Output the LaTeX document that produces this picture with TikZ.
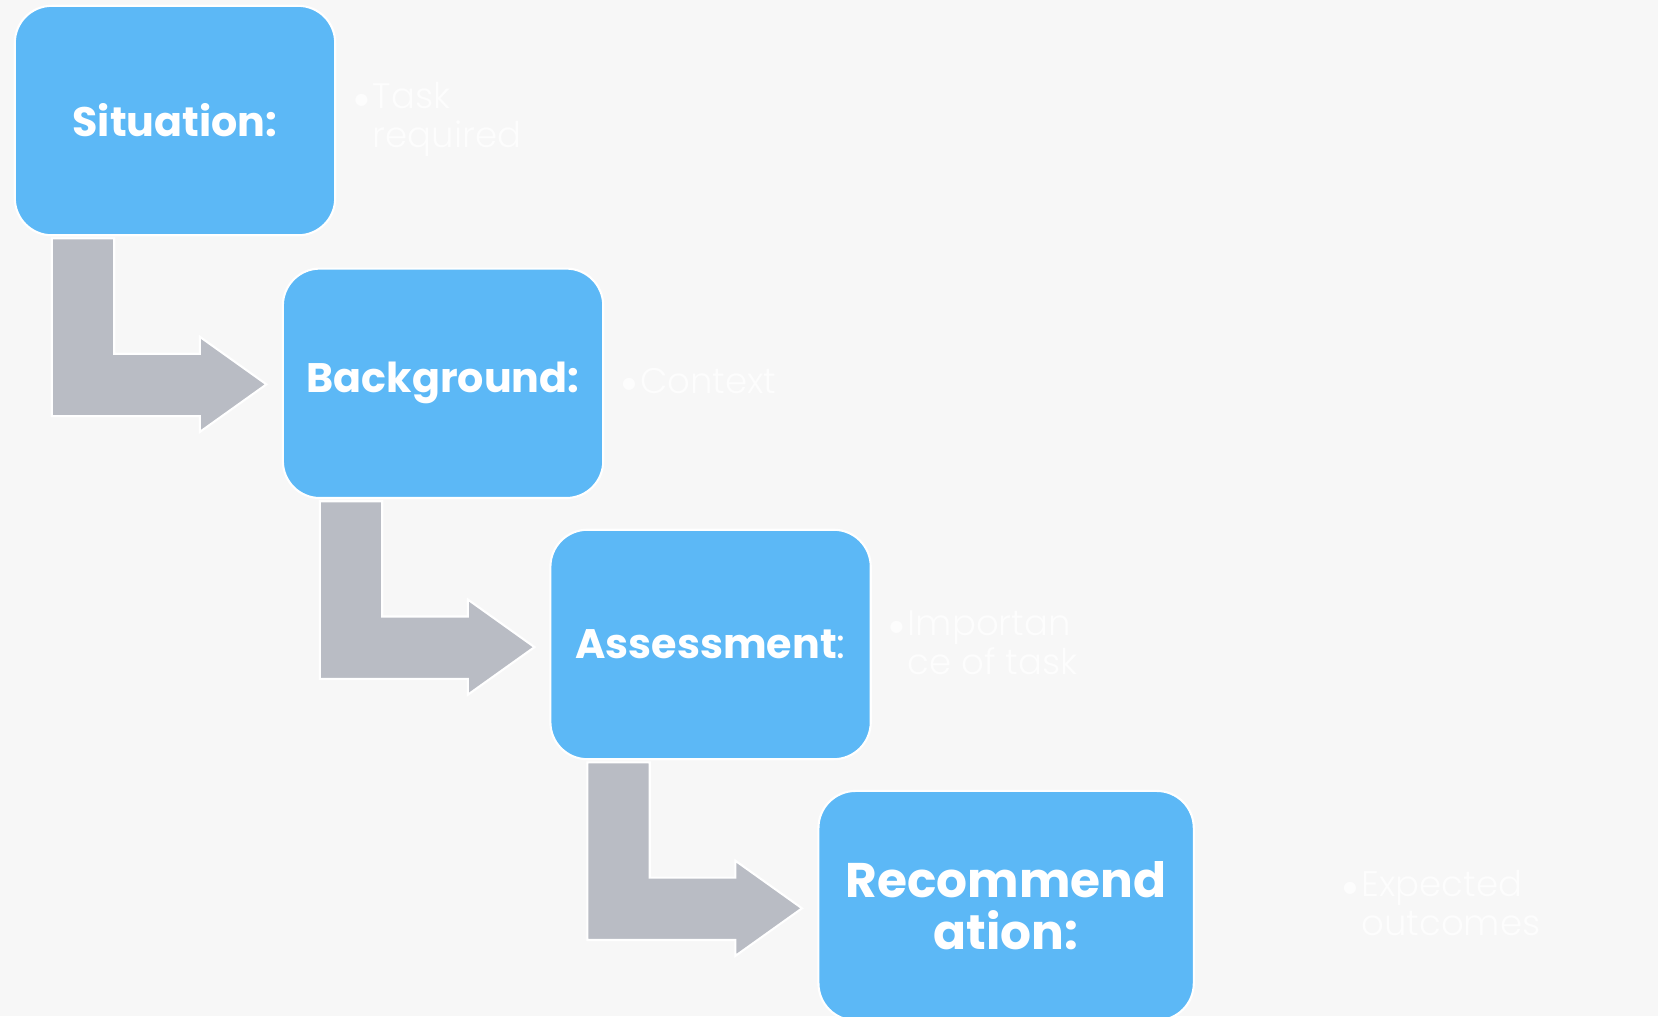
\documentclass[tikz,border=0pt]{standalone}
\usepackage{fontspec}
\setmainfont{Poppins}
\newfontfamily\thinfont{Poppins Light}
\newfontfamily\bulfont{DejaVu Sans}
\usetikzlibrary{calc}
\definecolor{boxblue}{HTML}{5CB8F6}
\definecolor{arrowgray}{HTML}{B9BCC4}
\definecolor{bgcol}{HTML}{F7F7F7}
\definecolor{sidetext}{HTML}{FDFDFD}
\tikzset{
  stagebox/.style={draw=white, line width=1pt, fill=boxblue, rounded corners=17.5pt,
    minimum width=151.5pt, minimum height=108.5pt, inner sep=0pt, outer sep=0pt,
    text=white, align=center, font=\bfseries\fontsize{19.5}{22}\selectfont},
  bentarrow/.style={draw=white, line width=1pt, fill=arrowgray, line join=miter},
  sidenote/.style={anchor=west, inner sep=0pt, align=left, text=sidetext,
    font=\thinfont\fontsize{16.8}{18.5}\selectfont}
}
\newcommand{\bul}{\llap{\raisebox{2pt}{\bulfont\fontsize{7.5}{7.5}\selectfont ●}\hspace{2pt}}}
\begin{document}
\begin{tikzpicture}[x=0.5pt,y=-0.5pt]
\useasboundingbox (0,0) rectangle (1568,961);
\fill[bgcol] (0,0) rectangle (1568,961);

\node[stagebox] (s) at (165.5,114) {Situation:};
\node[stagebox] (b) at (419,362.5) {Background:};
\node[stagebox] (a) at (672,609.5) {Assessment{\mdseries :}};
\node[stagebox, minimum width=177.5pt, font=\bfseries\fontsize{23}{24.5}\selectfont] (r) at (951.5,856.5) {Recommend\\ation:};

\foreach \from in {s,b,a}{
  \draw[bentarrow] ([shift={(35,3)}]\from.south west) -- ++(59,0) -- ++(0,109) -- ++(81,0)
    -- ++(0,-16) -- ++(63,45) -- ++(-63,45) -- ++(0,-15) -- ++(-140,0) -- cycle;
}

\node[sidenote] (ns) at (352,113) {\bul Task\\required};
\node[sidenote] (nb) at (605,360) {\bul Context};
\node[sidenote] (na) at (858,608) {\bul Importan\\ce of task};
\node[sidenote] (nr) at (1287,854) {\bul Expected\\outcomes};
\end{tikzpicture}
\end{document}
